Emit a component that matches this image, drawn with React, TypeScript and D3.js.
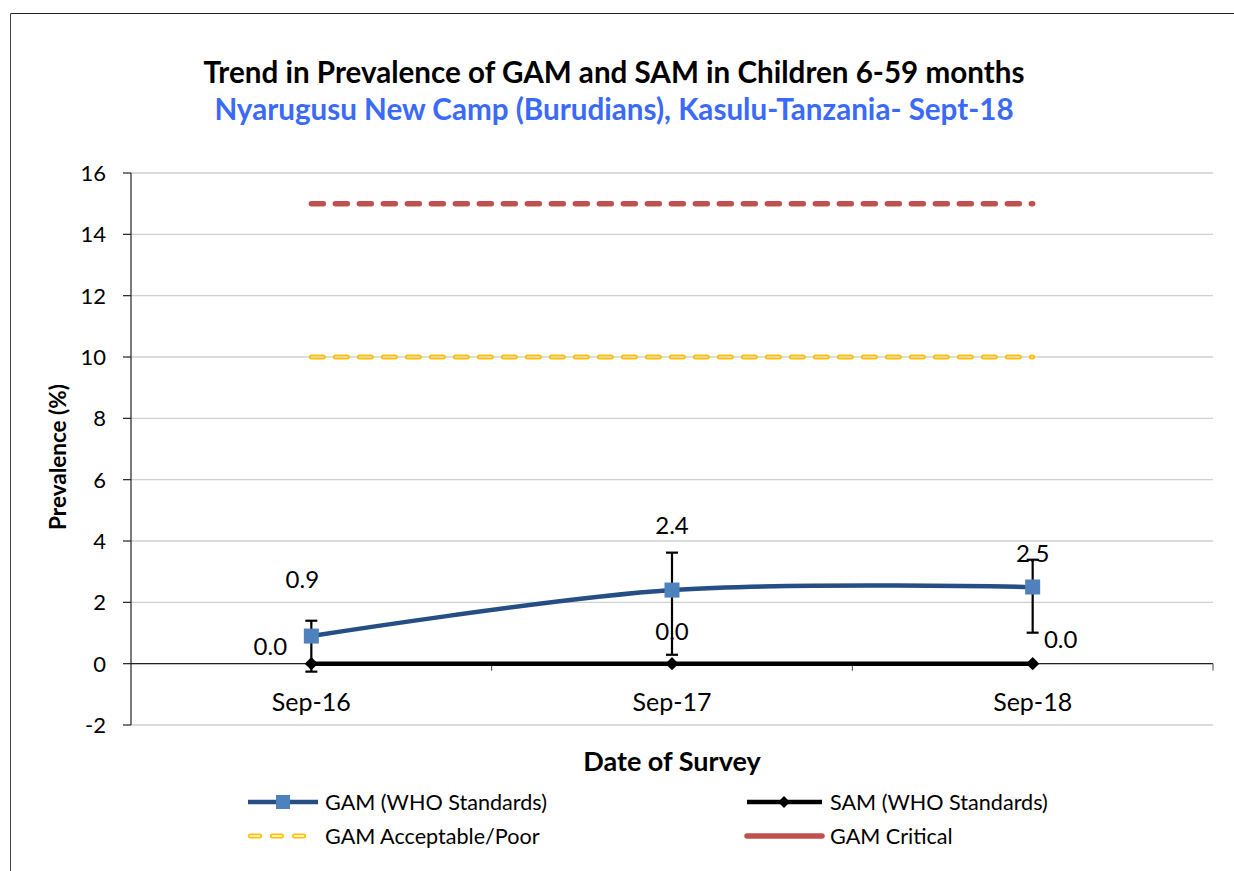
import React from "react";
import * as d3 from "d3";

const categories = ["Sep-16", "Sep-17", "Sep-18"];
const gamValues = [0.9, 2.4, 2.5];
const gamLower = [-0.26, 0.29, 1.01];
const gamUpper = [1.4, 3.62, 3.39];
const samValues = [0.0, 0.0, 0.0];
const acceptableValues = [10, 10, 10];
const criticalValues = [15, 15, 15];
const yTicks = [-2, 0, 2, 4, 6, 8, 10, 12, 14, 16];

const W = 1234;
const H = 871;
const FONT = "Lato, 'Open Sans', sans-serif";

export default function App() {
  const x = d3.scaleBand<string>().domain(categories).range([131, 1213]);
  const cx = (c: string) => (x(c) as number) + x.bandwidth() / 2;
  const y = d3.scaleLinear().domain([-2, 16]).range([725, 173]);

  const smooth = d3
    .line<number>()
    .x((_, i) => cx(categories[i]))
    .y((d) => y(d))
    .curve(d3.curveCatmullRom.alpha(0));
  const straight = d3
    .line<number>()
    .x((_, i) => cx(categories[i]))
    .y((d) => y(d));

  const xLeft = 131;
  const xRight = 1213;

  const gamLabelOff = [
    [-9, -57],
    [0, -65],
    [0, -34],
  ];
  const samLabelOff = [
    [-41, -17],
    [0, -32],
    [28, -24],
  ];

  return (
    <svg
      width={W}
      height={H}
      style={{ position: "absolute", left: 0, top: 0, background: "#fff" }}
      fontFamily={FONT}
    >
      <rect x={0} y={0} width={W} height={H} fill="#fff" />
      {/* frame */}
      <line x1={10.5} y1={13.5} x2={W} y2={13.5} stroke="#222" strokeWidth={1} />
      <line x1={10.5} y1={13.5} x2={10.5} y2={H} stroke="#444" strokeWidth={1} />

      {/* titles */}
      <text x={614} y={83} textAnchor="middle" fontSize={29.6} fontWeight="bold" fill="#000">
        Trend in Prevalence of GAM and SAM in Children 6-59 months
      </text>
      <text x={614} y={120} textAnchor="middle" fontSize={29.6} fontWeight="bold" fill="#3A6AF7">
        Nyarugusu New Camp (Burudians), Kasulu-Tanzania- Sept-18
      </text>

      {/* grid */}
      {yTicks.map((t) => (
        <line
          key={"g" + t}
          x1={xLeft}
          x2={xRight}
          y1={y(t)}
          y2={y(t)}
          stroke="#d0d0d0"
          strokeWidth={1.3}
        />
      ))}
      {/* y axis */}
      <line x1={xLeft} x2={xLeft} y1={y(16)} y2={y(-2)} stroke="#222" strokeWidth={1.2} />
      {yTicks.map((t) => (
        <g key={"t" + t}>
          <line x1={xLeft - 8} x2={xLeft} y1={y(t)} y2={y(t)} stroke="#222" strokeWidth={1.2} />
          <text x={106} y={y(t)} dy="0.36em" textAnchor="end" fontSize={22} fill="#000">
            {t}
          </text>
        </g>
      ))}
      {/* x axis at 0 */}
      <line x1={xLeft} x2={xRight} y1={y(0)} y2={y(0)} stroke="#222" strokeWidth={1.2} />
      {categories.map((c) => (
        <line
          key={"xt" + c}
          x1={(x(c) as number) + x.bandwidth()}
          x2={(x(c) as number) + x.bandwidth()}
          y1={y(0)}
          y2={y(0) + 7}
          stroke="#444"
          strokeWidth={1}
        />
      ))}
      {categories.map((c) => (
        <text key={"xl" + c} x={cx(c)} y={711} textAnchor="middle" fontSize={25} fill="#000">
          {c}
        </text>
      ))}

      {/* axis titles */}
      <text
        transform={`translate(66,457) rotate(-90)`}
        textAnchor="middle"
        fontSize={22.5}
        fontWeight="bold"
        fill="#000"
      >
        Prevalence (%)
      </text>
      <text x={cx("Sep-17")} y={771} textAnchor="middle" fontSize={27} fontWeight="bold" fill="#000">
        Date of Survey
      </text>

      {/* critical line */}
      <path
        d={straight(criticalValues) || ""}
        fill="none"
        stroke="#C0504D"
        strokeWidth={5.5}
        strokeDasharray="12 12"
        strokeLinecap="round"
      />
      {/* acceptable line */}
      <path
        d={straight(acceptableValues) || ""}
        fill="none"
        stroke="#FFC000"
        strokeWidth={5}
        strokeDasharray="12 12"
        strokeLinecap="round"
      />
      <path
        d={straight(acceptableValues) || ""}
        fill="none"
        stroke="#e4dcc4"
        strokeWidth={1.6}
        strokeDasharray="12 12"
        strokeLinecap="round"
      />

      {/* SAM line */}
      <path d={straight(samValues) || ""} fill="none" stroke="#000" strokeWidth={4.5} />

      {/* error bars */}
      {categories.map((c, i) => (
        <g key={"e" + c} stroke="#000" strokeWidth={2.2}>
          <line x1={cx(c)} x2={cx(c)} y1={y(gamLower[i])} y2={y(gamUpper[i])} />
          <line x1={cx(c) - 6} x2={cx(c) + 6} y1={y(gamLower[i])} y2={y(gamLower[i])} />
          <line x1={cx(c) - 6} x2={cx(c) + 6} y1={y(gamUpper[i])} y2={y(gamUpper[i])} />
        </g>
      ))}

      {/* SAM markers */}
      {categories.map((c, i) => (
        <path
          key={"sm" + c}
          d={d3.symbol(d3.symbolDiamond2, 110)() || ""}
          transform={`translate(${cx(c)},${y(samValues[i])})`}
          fill="#000"
        />
      ))}

      {/* GAM line */}
      <path d={smooth(gamValues) || ""} fill="none" stroke="#254E84" strokeWidth={4.5} />
      {categories.map((c, i) => (
        <rect
          key={"gm" + c}
          x={cx(c) - 7.5}
          y={y(gamValues[i]) - 7.5}
          width={15}
          height={15}
          fill="#4F81BD"
        />
      ))}

      {/* labels */}
      {categories.map((c, i) => (
        <text
          key={"gl" + c}
          x={cx(c) + gamLabelOff[i][0]}
          y={y(gamValues[i]) + gamLabelOff[i][1]}
          dy="0.36em"
          textAnchor="middle"
          fontSize={24}
          fill="#000"
        >
          {gamValues[i].toFixed(1)}
        </text>
      ))}
      {categories.map((c, i) => (
        <text
          key={"sl" + c}
          x={cx(c) + samLabelOff[i][0]}
          y={y(samValues[i]) + samLabelOff[i][1]}
          dy="0.36em"
          textAnchor="middle"
          fontSize={24}
          fill="#000"
        >
          {samValues[i].toFixed(1)}
        </text>
      ))}

      {/* legend */}
      <g>
        <line x1={248} x2={318} y1={802} y2={802} stroke="#254E84" strokeWidth={4.5} />
        <rect x={276} y={795} width={14} height={14} fill="#4F81BD" />
        <text x={325} y={802} dy="0.36em" fontSize={21.6} fill="#000">
          GAM (WHO Standards)
        </text>

        <line x1={747} x2={822} y1={802} y2={802} stroke="#000" strokeWidth={4.5} />
        <path d={d3.symbol(d3.symbolDiamond2, 90)() || ""} transform="translate(784,802)" fill="#000" />
        <text x={830} y={802} dy="0.36em" fontSize={21.6} fill="#000">
          SAM (WHO Standards)
        </text>

        <line x1={250.5} x2={310} y1={836} y2={836} stroke="#FFC000" strokeWidth={5} strokeDasharray="9 13" strokeLinecap="round" />
        <line x1={250.5} x2={310} y1={836} y2={836} stroke="#fff" strokeWidth={1.6} strokeDasharray="9 13" strokeLinecap="round" />
        <text x={325} y={836} dy="0.36em" fontSize={21.6} fill="#000">
          GAM Acceptable/Poor
        </text>

        <line x1={747} x2={822} y1={836} y2={836} stroke="#C0504D" strokeWidth={5.5} strokeLinecap="round" />
        <text x={830} y={836} dy="0.36em" fontSize={21.6} fill="#000">
          GAM Critical
        </text>
      </g>
    </svg>
  );
}
